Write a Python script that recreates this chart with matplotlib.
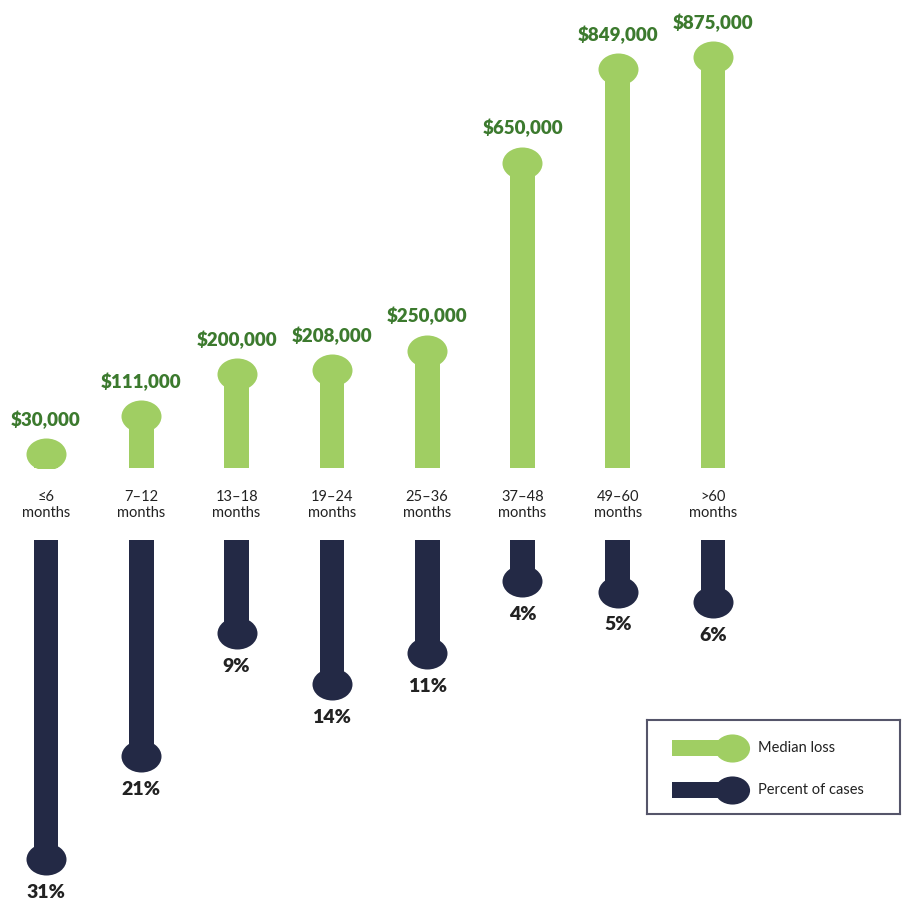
import matplotlib.pyplot as plt
from matplotlib.path import Path
from matplotlib.transforms import Affine2D
from matplotlib.patches import Rectangle

categories = ['\u22646\nmonths', '7\u201312\nmonths', '13\u201318\nmonths', '19\u201324\nmonths',
              '25\u201336\nmonths', '37\u201348\nmonths', '49\u201360\nmonths', '>60\nmonths']
median_loss = [30000, 111000, 200000, 208000, 250000, 650000, 849000, 875000]
pct_cases = [31, 21, 9, 14, 11, 4, 5, 6]

GREEN = '#a0ce63'
NAVY = '#232945'
LABEL_GREEN = '#3c7a2e'
TEXT = '#222222'

W, H = 903, 908
head = Path.unit_circle().transformed(Affine2D().scale(1, 0.8))


def main():
    fig = plt.figure(figsize=(W / 100, H / 100), dpi=100)
    x = list(range(len(categories)))
    xlim = (-46 / 95.3, (W - 46) / 95.3)

    # upper panel: median loss
    ax1 = fig.add_axes([0, (H - 468) / H, 1, 468 / H])
    ax1.set_xlim(*xlim)
    ax1.set_ylim(0, 468 / 0.47 * 1000)
    ax1.bar(x, median_loss, width=0.26, color=GREEN, zorder=2)
    ax1.scatter(x, median_loss, marker=head, s=830, color=GREEN, zorder=3, linewidths=0)
    for i, v in enumerate(median_loss):
        ax1.annotate('${:,}'.format(v), (i, v), xytext=(0, 18), textcoords='offset points',
                     ha='center', va='bottom', color=LABEL_GREEN, fontsize=13.5,
                     fontweight='heavy', family='Lato', annotation_clip=False)
    ax1.axis('off')

    # lower panel: percent of cases
    ax2 = fig.add_axes([0, 0, 1, (H - 540) / H])
    ax2.set_xlim(*xlim)
    ax2.set_ylim(368 / 10.3, 0)
    ax2.bar(x, pct_cases, width=0.26, color=NAVY, zorder=2)
    ax2.scatter(x, pct_cases, marker=head, s=830, color=NAVY, zorder=3, linewidths=0)
    for i, v in enumerate(pct_cases):
        ax2.annotate('{}%'.format(v), (i, v), xytext=(0, -18), textcoords='offset points',
                     ha='center', va='top', color=TEXT, fontsize=14, fontweight='heavy',
                     family='Lato', annotation_clip=False)
    ax2.axis('off')

    # category labels between panels
    for i, c in enumerate(categories):
        xf = (46 + 95.3 * i) / W
        fig.text(xf, 1 - 505 / H, c, ha='center', va='center', fontsize=10.5,
                 color=TEXT, family='Lato', linespacing=1.1)

    # legend box
    lg = fig.add_axes([647 / W, 1 - 814 / H, 253 / W, 94 / H])
    lg.set_xlim(0, 253)
    lg.set_ylim(94, 0)
    lg.set_xticks([])
    lg.set_yticks([])
    for s in lg.spines.values():
        s.set_color('#55556a')
        s.set_linewidth(1.5)
    for yy, col, lab in [(28, GREEN, 'Median loss'), (70, NAVY, 'Percent of cases')]:
        lg.add_patch(Rectangle((25, yy - 8), 62, 16, color=col, lw=0))
        lg.scatter([85], [yy], marker=head, s=640, color=col, linewidths=0)
        lg.text(111, yy, lab, va='center', ha='left', fontsize=10.5, color=TEXT, family='Lato')

    fig.savefig('out.png', dpi=100)


if __name__ == '__main__':
    main()
